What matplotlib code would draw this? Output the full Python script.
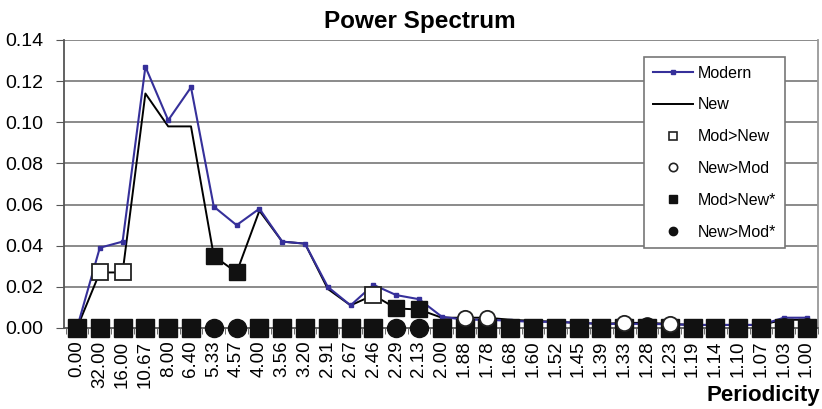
import matplotlib
matplotlib.use('Agg')
import matplotlib.pyplot as plt
from matplotlib.lines import Line2D
import numpy as np

plt.rcParams['font.family'] = ['Liberation Sans', 'DejaVu Sans']

# 周期ラベル
periods = ['0.00', '32.00', '16.00', '10.67', '8.00', '6.40', '5.33', '4.57',
           '4.00', '3.56', '3.20', '2.91', '2.67', '2.46', '2.29', '2.13',
           '2.00', '1.88', '1.78', '1.68', '1.60', '1.52', '1.45', '1.39',
           '1.33', '1.28', '1.23', '1.19', '1.14', '1.10', '1.07', '1.03', '1.00']

modern = [0.000, 0.039, 0.042, 0.127, 0.101, 0.117, 0.059, 0.050,
          0.058, 0.042, 0.041, 0.020, 0.011, 0.021, 0.016, 0.014,
          0.0055, 0.004, 0.004, 0.0035, 0.003, 0.003, 0.0025, 0.002,
          0.002, 0.002, 0.0018, 0.0015, 0.0015, 0.0015, 0.0015, 0.005, 0.005]

new = [0.000, 0.027, 0.027, 0.114, 0.098, 0.098, 0.035, 0.027,
       0.057, 0.042, 0.041, 0.019, 0.011, 0.016, 0.0095, 0.009,
       0.005, 0.005, 0.005, 0.004, 0.0035, 0.003, 0.0025, 0.002,
       0.0025, 0.0025, 0.002, 0.0015, 0.0015, 0.0015, 0.0015, 0.004, 0.004]

# 差のマーカー(線上)
mod_gt_new = [1, 2, 13]            # 白抜き四角
new_gt_mod = [17, 18, 24, 26]      # 白抜き丸
mod_gt_new_sig = [6, 7, 14, 15]    # 黒四角
new_gt_mod_sig = [25, 31, 32]      # 黒丸
new_gt_mod_sig_y = [0.0015, 0.0012, 0.0012]

# y=0 の行(黒丸の位置、それ以外は黒四角)
zero_circles = [6, 7, 14, 15]

x = np.arange(len(periods))
modern = np.array(modern)
new = np.array(new)

fig = plt.figure(figsize=(8.22, 4.09), dpi=100)
ax = fig.add_axes([64/822, 1-328/409, 754/822, 288/409])

grid_col = '#8a8a8a'
for yv in np.arange(0.02, 0.141, 0.02):
    ax.axhline(yv, color=grid_col, lw=1.4, zorder=0)

ax.plot(x, new, color='black', lw=1.4, zorder=2)
ax.plot(x, modern, color='#36309a', lw=1.5, marker='s', ms=3, zorder=3)

# y=0 の行
zero_sq = [i for i in x if i not in zero_circles]
ax.plot(zero_sq, np.zeros(len(zero_sq)), 's', color='#111111', ms=13,
        clip_on=False, zorder=4)
ax.plot(zero_circles, np.zeros(len(zero_circles)), 'o', color='#111111',
        ms=13, clip_on=False, zorder=4)

ax.plot(mod_gt_new, new[mod_gt_new], 's', mfc='white', mec='#222222',
        mew=1.3, ms=12, zorder=5)
ax.plot(new_gt_mod, new[new_gt_mod], 'o', mfc='white', mec='#222222',
        mew=1.3, ms=11, zorder=5, clip_on=False)
ax.plot(mod_gt_new_sig, new[mod_gt_new_sig], 's', color='#111111',
        ms=12, zorder=5)
ax.plot(new_gt_mod_sig, new_gt_mod_sig_y, 'o',
        color='#111111', ms=11, zorder=5, clip_on=False)

ax.set_xlim(-0.57, 32.26)
ax.set_ylim(0, 0.14)
ax.set_yticks(np.arange(0, 0.141, 0.02))
ax.set_yticklabels(['%.2f' % v for v in np.arange(0, 0.141, 0.02)], fontsize=14)
ax.set_xticks(x)
ax.set_xticklabels(periods, rotation=90, fontsize=13.5)
ax.set_xticks(np.arange(-0.5, 32.6, 1), minor=True)
ax.tick_params(axis='x', which='major', length=0, pad=9)
ax.tick_params(axis='x', which='minor', length=4, color='#555555')
ax.tick_params(axis='y', length=6, color='#555555', pad=9)

for s in ['left', 'bottom']:
    ax.spines[s].set_color('#555555')
    ax.spines[s].set_linewidth(1.3)
ax.spines['top'].set_visible(False)
ax.spines['right'].set_color('#999999')
ax.spines['right'].set_linewidth(1.3)

fig.text(420/822, 1-28/409, 'Power Spectrum', fontsize=17.5, fontweight='bold',
         ha='center', va='baseline')
fig.text(820/822, 1-396/409, 'Periodicity', fontsize=16, fontweight='bold',
         ha='right', va='center')

handles = [
    Line2D([], [], color='#36309a', lw=1.5, marker='s', ms=3),
    Line2D([], [], color='black', lw=1.4),
    Line2D([], [], ls='', marker='s', mfc='white', mec='#222222', mew=1.2, ms=6),
    Line2D([], [], ls='', marker='o', mfc='white', mec='#222222', mew=1.2, ms=6),
    Line2D([], [], ls='', marker='s', color='#111111', ms=6),
    Line2D([], [], ls='', marker='o', color='#111111', ms=6),
]
labels = ['Modern', 'New', 'Mod>New', 'New>Mod', 'Mod>New*', 'New>Mod*']
leg = ax.legend(handles, labels, loc='upper right', bbox_to_anchor=(0.967, 0.969),
                fontsize=11.5, labelspacing=1.05, handlelength=2.5,
                handletextpad=0.3, borderpad=0.55, fancybox=False,
                framealpha=1, edgecolor='#777777')
leg.get_frame().set_linewidth(1.2)

plt.savefig('out.png', dpi=100)
